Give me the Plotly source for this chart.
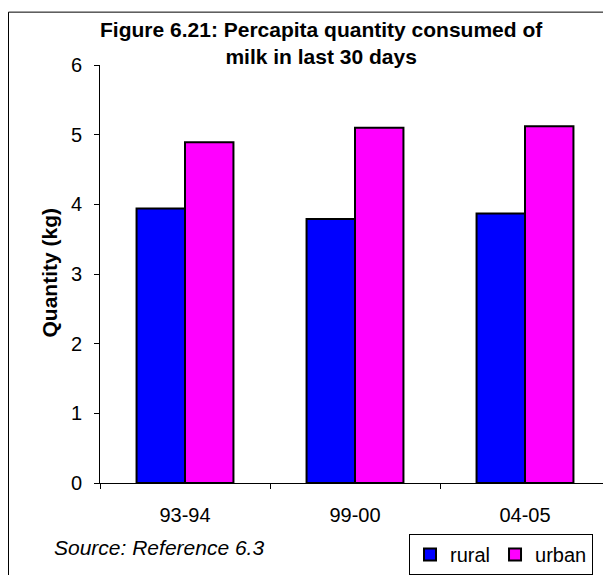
import plotly.graph_objects as go

categories = ["93-94", "99-00", "04-05"]
rural = [3.94, 3.79, 3.87]
urban = [4.89, 5.10, 5.12]
y_ticks = [0, 1, 2, 3, 4, 5, 6]

FONT = "Arial, Liberation Sans, sans-serif"

fig = go.Figure()
fig.add_trace(go.Bar(name="rural", x=categories, y=rural,
                     marker=dict(color="#0000FF", line=dict(color="black", width=2))))
fig.add_trace(go.Bar(name="urban", x=categories, y=urban,
                     marker=dict(color="#FF00FF", line=dict(color="black", width=2))))

W, H = 603, 575
L, R, T, B = 100, 0, 65, 87
pw = W - L - R
ph = H - T - B
cat_px = 170.0
xr_end = -0.5 + pw / cat_px


def px_x(x):
    return (x - L) / pw


def px_y(y):
    return (H - B - y) / ph


fig.update_layout(
    width=W, height=H,
    margin=dict(l=L, r=R, t=T, b=B, pad=0),
    paper_bgcolor="white", plot_bgcolor="white",
    barmode="group", bargap=0.43, bargroupgap=0,
    font=dict(family=FONT, size=20, color="black"),
    showlegend=True,
    legend=dict(orientation="h", x=px_x(409), y=px_y(540),
                xanchor="left", yanchor="top",
                bordercolor="black", borderwidth=1, bgcolor="white",
                font=dict(family=FONT, size=20), itemsizing="constant",
                traceorder="normal", itemwidth=30, tracegroupgap=0),
    xaxis=dict(type="category", range=[-0.5, xr_end], showline=True, linecolor="black",
               linewidth=1, ticks="outside", ticklen=5, tickcolor="black",
               tickson="boundaries", showgrid=False, zeroline=False,
               ticklabelstandoff=14,
               tickfont=dict(family=FONT, size=20)),
    yaxis=dict(range=[0, 6], tickvals=y_ticks, showline=True, linecolor="black",
               linewidth=1, ticks="outside", ticklen=5, tickcolor="black",
               showgrid=False, zeroline=False, ticklabelstandoff=8,
               tickfont=dict(family=FONT, size=20)),
)

fig.add_annotation(text="<b>Figure 6.21: Percapita quantity consumed of<br>milk in last 30 days</b>",
                   xref="paper", yref="paper", x=px_x(321), y=px_y(15),
                   xanchor="center", yanchor="top", showarrow=False,
                   font=dict(family=FONT, size=21), align="center")
fig.add_annotation(text="<b>Quantity (kg)</b>", textangle=-90,
                   xref="paper", yref="paper", x=px_x(50), y=px_y(275),
                   xanchor="center", yanchor="middle", showarrow=False,
                   font=dict(family=FONT, size=21))
fig.add_annotation(text="<i>Source: Reference 6.3</i>",
                   xref="paper", yref="paper", x=px_x(52), y=px_y(553),
                   xanchor="left", yanchor="middle", showarrow=False,
                   font=dict(family=FONT, size=21))

fig.add_shape(type="rect", xref="paper", yref="paper",
              x0=px_x(8.5), x1=1.05, y0=px_y(590), y1=px_y(11.5),
              line=dict(color="black", width=1), fillcolor="rgba(0,0,0,0)", layer="below")

fig.write_html("out.html")
